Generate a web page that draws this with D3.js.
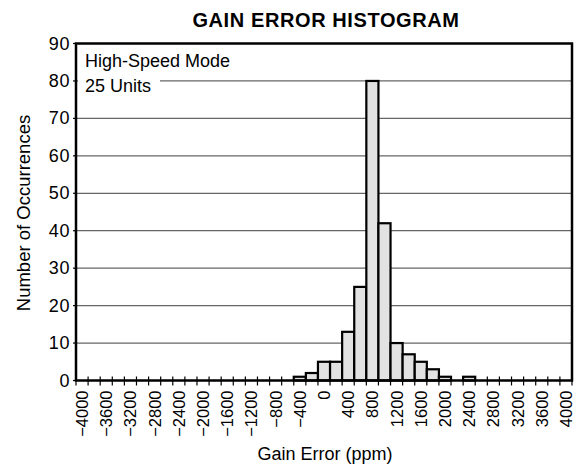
<!DOCTYPE html>
<html>
<head>
<meta charset="utf-8">
<script src="https://cdn.jsdelivr.net/npm/d3@7/dist/d3.min.js"></script>
<style>
  body { margin: 0; background: #fff; }
  svg { display: block; font-family: "Liberation Sans", Arial, sans-serif; }
</style>
</head>
<body>
<svg id="chart" width="578" height="468"></svg>
<script>
// Bin centres (ppm); each bin is 200 ppm wide
const binCenters = [-400, -200, 0, 200, 400, 600, 800, 1000, 1200, 1400, 1600, 1800, 2000, 2200, 2400];
const counts     = [1, 2, 5, 5, 13, 25, 80, 42, 10, 7, 5, 3, 1, 0, 1];
const binWidth = 200;

const xLabelValues = d3.range(-4000, 4001, 400);
const yTickValues  = d3.range(0, 91, 10);
const gridValues   = d3.range(10, 81, 10);
const noteLines    = ["High-Speed Mode", "25 Units"];

const svg = d3.select("#chart");
const m = { left: 76, right: 572, top: 43.5, bottom: 380.5 };

const x = d3.scaleLinear().domain([-4100, 4100]).range([m.left, m.right]);
const y = d3.scaleLinear().domain([0, 90]).range([m.bottom, m.top]);

// Title
svg.append("text")
  .attr("x", 326).attr("y", 27)
  .attr("text-anchor", "middle")
  .attr("font-weight", "bold")
  .attr("font-size", 20)
  .attr("letter-spacing", 0.6)
  .text("GAIN ERROR HISTOGRAM");

// Horizontal grid
svg.append("g").selectAll("line").data(gridValues).join("line")
  .attr("x1", m.left).attr("x2", m.right)
  .attr("y1", d => y(d)).attr("y2", d => y(d))
  .attr("stroke", "#666").attr("stroke-width", 1.3);

// Note box (white backing hides the grid line behind it)
const note = svg.append("g");
note.append("rect")
  .attr("x", m.left + 2).attr("y", m.top + 2)
  .attr("width", 82).attr("height", 52)
  .attr("fill", "#fff");
note.selectAll("text").data(noteLines).join("text")
  .attr("x", 85).attr("y", (d, i) => 67 + i * 24.5)
  .attr("font-size", 18)
  .text(d => d);

// Bars
svg.append("g").selectAll("rect")
  .data(binCenters.map((c, i) => ({ c, v: counts[i] })).filter(d => d.v > 0))
  .join("rect")
  .attr("x", d => x(d.c - binWidth / 2))
  .attr("width", d => x(d.c + binWidth / 2) - x(d.c - binWidth / 2))
  .attr("y", d => y(d.v))
  .attr("height", d => y(0) - y(d.v))
  .attr("fill", "#e1e2e1")
  .attr("stroke", "#000")
  .attr("stroke-width", 2.2);

// X axis: ticks at bin edges crossing the baseline
const edgeTicks = d3.range(-4100, 4101, 200);
svg.append("g").selectAll("line").data(edgeTicks).join("line")
  .attr("x1", d => x(d)).attr("x2", d => x(d))
  .attr("y1", m.bottom - 4).attr("y2", m.bottom + 5)
  .attr("stroke", "#000").attr("stroke-width", 1.2);

const fmt = d => (d < 0 ? "\u2212" + Math.abs(d) : String(d));
svg.append("g").selectAll("text").data(xLabelValues).join("text")
  .attr("transform", d => `translate(${x(d) + 6},${m.bottom + 10}) rotate(-90)`)
  .attr("text-anchor", "end")
  .attr("font-size", 16.5)
  .text(fmt);

// Y axis ticks and labels
svg.append("g").selectAll("line").data(yTickValues).join("line")
  .attr("x1", m.left - 3).attr("x2", m.left)
  .attr("y1", d => y(d)).attr("y2", d => y(d))
  .attr("stroke", "#000").attr("stroke-width", 1.2);
svg.append("g").selectAll("text").data(yTickValues).join("text")
  .attr("x", m.left - 6).attr("y", d => y(d) + 6)
  .attr("text-anchor", "end")
  .attr("font-size", 18)
  .attr("letter-spacing", 0.6)
  .text(d => d);

// Frame
svg.append("rect")
  .attr("x", m.left).attr("y", m.top)
  .attr("width", m.right - m.left).attr("height", m.bottom - m.top)
  .attr("fill", "none").attr("stroke", "#000").attr("stroke-width", 2.5);

// Axis titles
svg.append("text")
  .attr("x", 325).attr("y", 460)
  .attr("text-anchor", "middle")
  .attr("font-size", 18)
  .text("Gain Error (ppm)");
svg.append("text")
  .attr("transform", "translate(30,213) rotate(-90)")
  .attr("text-anchor", "middle")
  .attr("font-size", 18.5)
  .text("Number of Occurrences");
</script>
</body>
</html>
